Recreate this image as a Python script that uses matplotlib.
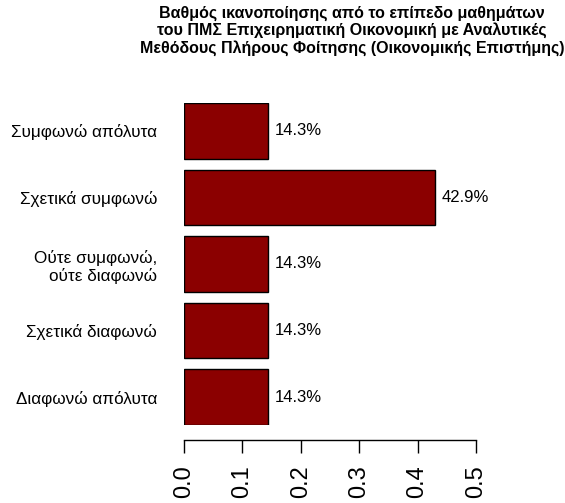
import matplotlib.pyplot as plt

plt.rcParams['font.family'] = ['Liberation Sans', 'DejaVu Sans']

categories = ['Συμφωνώ απόλυτα', 'Σχετικά συμφωνώ', 'Ούτε συμφωνώ,\nούτε διαφωνώ',
              'Σχετικά διαφωνώ', 'Διαφωνώ απόλυτα']
shares = [0.143, 0.429, 0.143, 0.143, 0.143]
ticks = [0.0, 0.1, 0.2, 0.3, 0.4, 0.5]

W, H = 565, 503
fig = plt.figure(figsize=(W / 100, H / 100), dpi=100)
# plot region in pixels: x 184..476, y 103..425
ax = fig.add_axes([184 / W, 1 - 425 / H, (476 - 184) / W, (425 - 103) / H])

pos = list(range(len(categories)))
ax.barh(pos, shares, height=1 / 1.2, color='#8b0000', edgecolor='black', linewidth=1)
for p, v in zip(pos, shares):
    ax.text(v + 0.0125, p, f'{v * 100:.1f}%', va='center', ha='left', fontsize=12)

ax.set_xlim(0, 0.5)
ax.set_ylim(len(categories) - 1 + 0.5 / 1.2, -0.5 / 1.2)
ax.tick_params(axis='y', length=0, pad=19.5, labelsize=12.3)
ax.set_yticks(pos)
ax.set_yticklabels(categories, ha='right', multialignment='right')
ax.tick_params(axis='x', length=9.4, width=1, pad=9, labelsize=17, labelrotation=90)
ax.set_xticks(ticks)
ax.set_xticklabels([f'{t:.1f}' for t in ticks])

for s in ['top', 'right', 'left']:
    ax.spines[s].set_visible(False)
ax.spines['bottom'].set_position(('outward', 10.8))
ax.spines['bottom'].set_linewidth(1)

fig.text(352 / W, 1 - 6 / H,
         'Βαθμός ικανοποίησης από το επίπεδο μαθημάτων\n'
         'του ΠΜΣ Επιχειρηματική Οικονομική με Αναλυτικές\n'
         'Μεθόδους Πλήρους Φοίτησης (Οικονομικής Επιστήμης)',
         ha='center', va='top', fontsize=11.5, fontweight='bold', linespacing=1.1)

fig.savefig('out.png', dpi=100)
